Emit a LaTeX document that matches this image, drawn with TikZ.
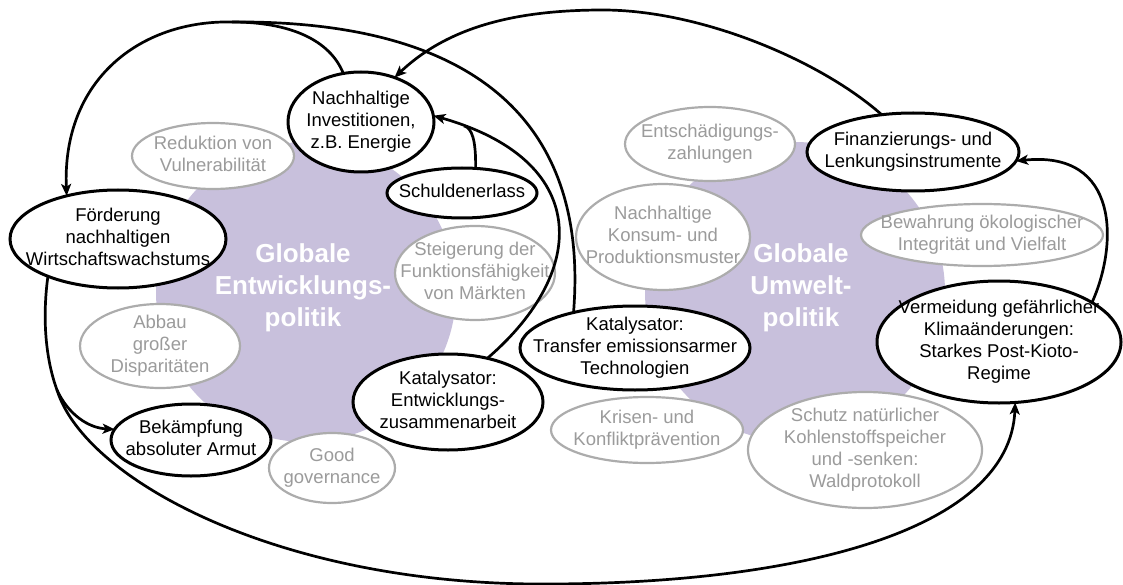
\documentclass[tikz,border=0pt]{standalone}
\usepackage{fontspec}
\setmainfont{Liberation Sans}
\usetikzlibrary{arrows.meta,shapes.geometric}
\definecolor{blob}{RGB}{200,192,220}
\definecolor{gline}{RGB}{172,172,172}
\definecolor{gtext}{RGB}{155,155,155}
\newcommand\zb[1]{\makebox[0pt]{\smash{\raisebox{-0.25em}{\begin{tabular}{@{}c@{}}#1\end{tabular}}}}}
\tikzset{
  basenode/.style={ellipse, inner sep=0pt, outer sep=0pt, font=\fontsize{18.5}{22}\selectfont},
  bnode/.style={basenode, draw=black, line width=3pt, fill=white, text=black},
  gnode/.style={basenode, draw=gline, line width=2.2pt, fill=white, text=gtext},
  conn/.style={line width=2.7pt, -{Stealth[length=12pt,width=10pt,inset=3pt]}},
  plainline/.style={line width=2.7pt},
  blobtext/.style={text=white, font=\fontsize{26}{32}\selectfont\bfseries, align=center, inner sep=0pt}
}
\begin{document}
\begin{tikzpicture}[x=1pt,y=-1pt]
\useasboundingbox (0,0) rectangle (1123,585);
% blobs
\fill[blob] (306,292) circle[radius=150];
\fill[blob] (795,292) circle[radius=150];
\node[blobtext] (gE) at (303,288) {Globale\\Entwicklungs-\\politik};
\node[blobtext] (gU) at (801,288) {Globale\\Umwelt-\\politik};

% gray nodes
\node[gnode, minimum width=162pt, minimum height=66pt] (red) at (213,156) {\zb{Reduktion von\\Vulnerabilität}};
\node[gnode, minimum width=160pt, minimum height=94pt] (ste) at (475,273) {\zb{Steigerung der\\Funktionsfähigkeit\\von Märkten}};
\node[gnode, minimum width=160pt, minimum height=84pt] (abb) at (160,346) {\zb{Abbau\\großer\\Disparitäten}};
\node[gnode, minimum width=126pt, minimum height=70pt] (good) at (332,468) {\zb{Good\\governance}};
\node[gnode, minimum width=170pt, minimum height=74pt] (ent) at (710,144) {\zb{Entschädigungs-\\zahlungen}};
\node[gnode, minimum width=174pt, minimum height=106pt] (kon) at (663,237) {\zb{Nachhaltige\\Konsum- und\\Produktionsmuster}};
\node[gnode, minimum width=242pt, minimum height=62pt] (bew) at (982,235) {\zb{Bewahrung ökologischer\\Integrität und Vielfalt}};
\node[gnode, minimum width=192pt, minimum height=66pt] (kri) at (647,430) {\zb{Krisen- und\\Konfliktprävention}};
\node[gnode, minimum width=234pt, minimum height=116pt] (sch2) at (865,450) {\zb{Schutz natürlicher\\Kohlenstoffspeicher\\und -senken:\\Waldprotokoll}};

% black nodes
\node[bnode, minimum width=146pt, minimum height=100pt] (nn) at (361,122) {\zb{Nachhaltige\\Investitionen,\\z.B. Energie}};
\node[bnode, minimum width=150pt, minimum height=50pt] (sch) at (462,193) {\zb{Schuldenerlass}};
\node[bnode, minimum width=216pt, minimum height=98pt] (foe) at (118,239) {\zb{Förderung\\nachhaltigen\\Wirtschaftswachstums}};
\node[bnode, minimum width=160pt, minimum height=72pt] (bek) at (191,440) {\zb{Bekämpfung\\absoluter Armut}};
\node[bnode, minimum width=190pt, minimum height=96pt] (kat) at (448,402) {\zb{Katalysator:\\Entwicklungs-\\zusammenarbeit}};
\node[bnode, minimum width=230pt, minimum height=84pt] (tra) at (635,348) {\zb{Katalysator:\\Transfer emissionsarmer\\Technologien}};
\node[bnode, minimum width=212pt, minimum height=78pt] (fin) at (913,152) {\zb{Finanzierungs- und\\Lenkungsinstrumente}};
\node[bnode, minimum width=244pt, minimum height=122pt] (verm) at (999,342) {\zb{Vermeidung gefährlicher\\Klimaänderungen:\\Starkes Post-Kioto-\\Regime}};

% junction points
\coordinate (mTL) at (232,22);
\coordinate (mTop) at (603,10);
\coordinate (mSplit) at (57,390);
\coordinate (mBot) at (545,584);

% connectors
\draw[conn] (tra.150) .. controls (590,110) and (460,20) .. (mTL)
            .. controls (140,20) and (62,80) .. (foe.140);
\draw[plainline] (nn.110) .. controls (330,40) and (290,22) .. (mTL);
\draw[conn] (fin.130) .. controls (820,60) and (700,10) .. (mTop)
            .. controls (520,10) and (450,25) .. (nn.53);
\draw[conn] (kat.48) .. controls (590,270) and (590,160) .. coordinate[pos=0.93] (mSch) (nn.5);
\draw[plainline] (sch.61) .. controls (476,140) and (472,128) .. (mSch);
\draw[conn] (verm.23) .. controls (1118,245) and (1120,150) .. (fin.-5);
\draw[conn] (foe.208) .. controls (42,320) and (46,360) .. (mSplit)
            .. controls (68,414) and (88,428) .. (bek.172);
\draw[conn] (mSplit) .. controls (85,480) and (280,585) .. (mBot)
            .. controls (800,584) and (1010,530) .. (verm.-75);
\end{tikzpicture}
\end{document}
